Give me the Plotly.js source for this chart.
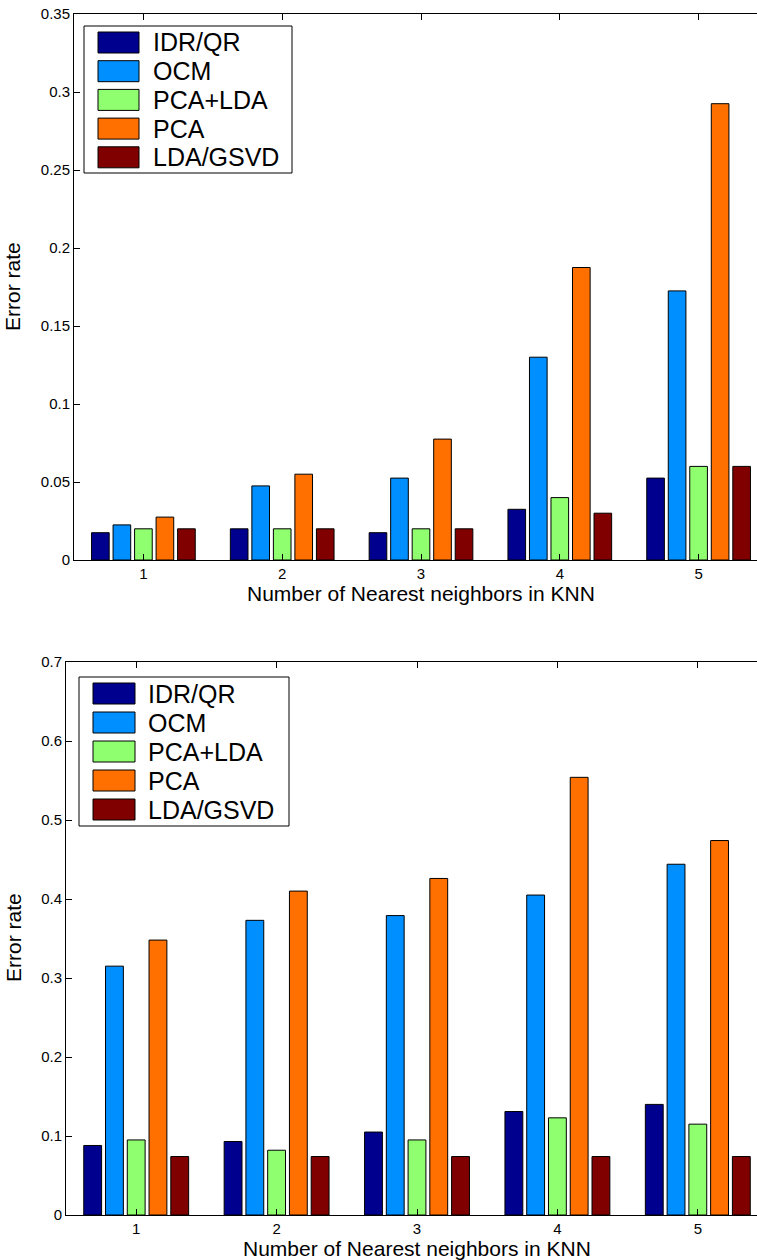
<!DOCTYPE html>
<html>
<head>
<meta charset="utf-8">
<script src="https://cdn.plot.ly/plotly-3.0.1.min.js"></script>
<style>
  html, body { margin: 0; padding: 0; overflow: hidden; background: #fff; }
  #chart { width: 800px; height: 1260px; }
</style>
</head>
<body>
<div id="chart"></div>
<script>
// ---- data ----
const neighbors = [1, 2, 3, 4, 5];
const tickLabels = ['1', '2', '3', '4', '5'];
const seriesNames = ['IDR/QR', 'OCM', 'PCA+LDA', 'PCA', 'LDA/GSVD'];

// top panel
const topIDRQR  = [0.0175, 0.0200, 0.0175, 0.0325, 0.0525];
const topOCM    = [0.0225, 0.0475, 0.0525, 0.1300, 0.1725];
const topPCALDA = [0.0200, 0.0200, 0.0200, 0.0400, 0.0600];
const topPCA    = [0.0275, 0.0550, 0.0775, 0.1875, 0.2925];
const topLDAGSVD= [0.0200, 0.0200, 0.0200, 0.0300, 0.0600];

// bottom panel
const botIDRQR  = [0.088, 0.093, 0.105, 0.131, 0.140];
const botOCM    = [0.315, 0.373, 0.379, 0.405, 0.444];
const botPCALDA = [0.095, 0.082, 0.095, 0.123, 0.115];
const botPCA    = [0.348, 0.410, 0.426, 0.554, 0.474];
const botLDAGSVD= [0.074, 0.074, 0.074, 0.074, 0.074];

const yTicksTop = [0, 0.05, 0.1, 0.15, 0.2, 0.25, 0.3, 0.35];
const yTicksBot = [0, 0.1, 0.2, 0.3, 0.4, 0.5, 0.6, 0.7];

const xTitle = 'Number of Nearest neighbors in KNN';
const yTitle = 'Error rate';

// ---- styles ----
const colors = ['#00008F', '#008FFF', '#8FFF70', '#FF7000', '#800000'];
const W = 800, H = 1260;
const FONT = 'Liberation Sans, Arial, Helvetica, sans-serif';
const px = x => x / W;
const py = y => 1 - y / H;

const topSeries = [topIDRQR, topOCM, topPCALDA, topPCA, topLDAGSVD];
const botSeries = [botIDRQR, botOCM, botPCALDA, botPCA, botLDAGSVD];

const traces = [];
topSeries.forEach((vals, i) => traces.push({
  type: 'bar', x: neighbors, y: vals, name: seriesNames[i],
  xaxis: 'x', yaxis: 'y', showlegend: false,
  marker: { color: colors[i], line: { color: '#000', width: 1 } },
  hoverinfo: 'x+y+name'
}));
botSeries.forEach((vals, i) => traces.push({
  type: 'bar', x: neighbors, y: vals, name: seriesNames[i],
  xaxis: 'x2', yaxis: 'y2', showlegend: false,
  marker: { color: colors[i], line: { color: '#000', width: 1 } },
  hoverinfo: 'x+y+name'
}));

function xAxis(domain, anchor) {
  return {
    domain: domain, anchor: anchor, range: [0.5, 5.5],
    tickvals: neighbors, ticktext: tickLabels,
    ticks: 'inside', ticklen: 6, tickwidth: 1, tickcolor: '#000',
    showline: true, linecolor: '#000', linewidth: 1, mirror: 'ticks',
    showgrid: false, zeroline: false,
    tickfont: { family: FONT, size: 15, color: '#000' }, fixedrange: true
  };
}
function yAxis(domain, anchor, range, tv) {
  return {
    domain: domain, anchor: anchor, range: range,
    tickvals: tv, ticktext: tv.map(v => String(v)),
    ticks: 'inside', ticklen: 6, tickwidth: 1, tickcolor: '#000',
    showline: true, linecolor: '#000', linewidth: 1, mirror: 'ticks',
    showgrid: false, zeroline: false,
    tickfont: { family: FONT, size: 15, color: '#000' }, fixedrange: true
  };
}

const shapes = [];
const annotations = [];

function addLegend(left, top, right, bottom, swL, swR, rowTop, rowStep, swH, textX) {
  shapes.push({ type: 'rect', xref: 'paper', yref: 'paper',
    x0: px(left), x1: px(right), y0: py(bottom), y1: py(top),
    line: { color: '#000', width: 1 }, fillcolor: '#fff', layer: 'above' });
  seriesNames.forEach((name, i) => {
    const t = rowTop + i * rowStep;
    shapes.push({ type: 'rect', xref: 'paper', yref: 'paper',
      x0: px(swL), x1: px(swR), y0: py(t + swH), y1: py(t),
      line: { color: '#000', width: 1 }, fillcolor: colors[i], layer: 'above' });
    annotations.push({ xref: 'paper', yref: 'paper', x: px(textX), y: py(t + swH / 2),
      xanchor: 'left', yanchor: 'middle', showarrow: false, text: name,
      font: { family: FONT, size: 25, color: '#000' } });
  });
}
addLegend(84, 26, 292, 173, 98, 139, 32, 28.7, 21, 151);
addLegend(79, 677, 289, 826, 93, 135, 683, 29, 21, 146);

// axis titles
[[421, 593], [417, 1248]].forEach(p => annotations.push({
  xref: 'paper', yref: 'paper', x: px(p[0]), y: py(p[1]),
  xanchor: 'center', yanchor: 'middle', showarrow: false, text: xTitle,
  borderpad: 0,
  font: { family: FONT, size: 21, color: '#000' } }));
[[13, 287], [13, 938]].forEach(p => annotations.push({
  xref: 'paper', yref: 'paper', x: px(p[0]), y: py(p[1]),
  xanchor: 'center', yanchor: 'middle', showarrow: false, text: yTitle, textangle: -90,
  font: { family: FONT, size: 21, color: '#000' } }));

const layout = {
  width: W, height: H,
  margin: { l: 0, r: 0, t: 0, b: 0 },
  paper_bgcolor: '#fff', plot_bgcolor: '#fff',
  barmode: 'group', bargap: 0.225, bargroupgap: 0.18,
  showlegend: false,
  xaxis: xAxis([px(74), px(768)], 'y'),
  yaxis: yAxis([py(560), py(14)], 'x', [0, 0.35], yTicksTop),
  xaxis2: xAxis([px(66), px(768)], 'y2'),
  yaxis2: yAxis([py(1215), py(662)], 'x2', [0, 0.7], yTicksBot),
  shapes: shapes,
  annotations: annotations,
  font: { family: FONT, color: '#000' }
};

Plotly.newPlot('chart', traces, layout, { displayModeBar: false, staticPlot: true });
</script>
</body>
</html>
